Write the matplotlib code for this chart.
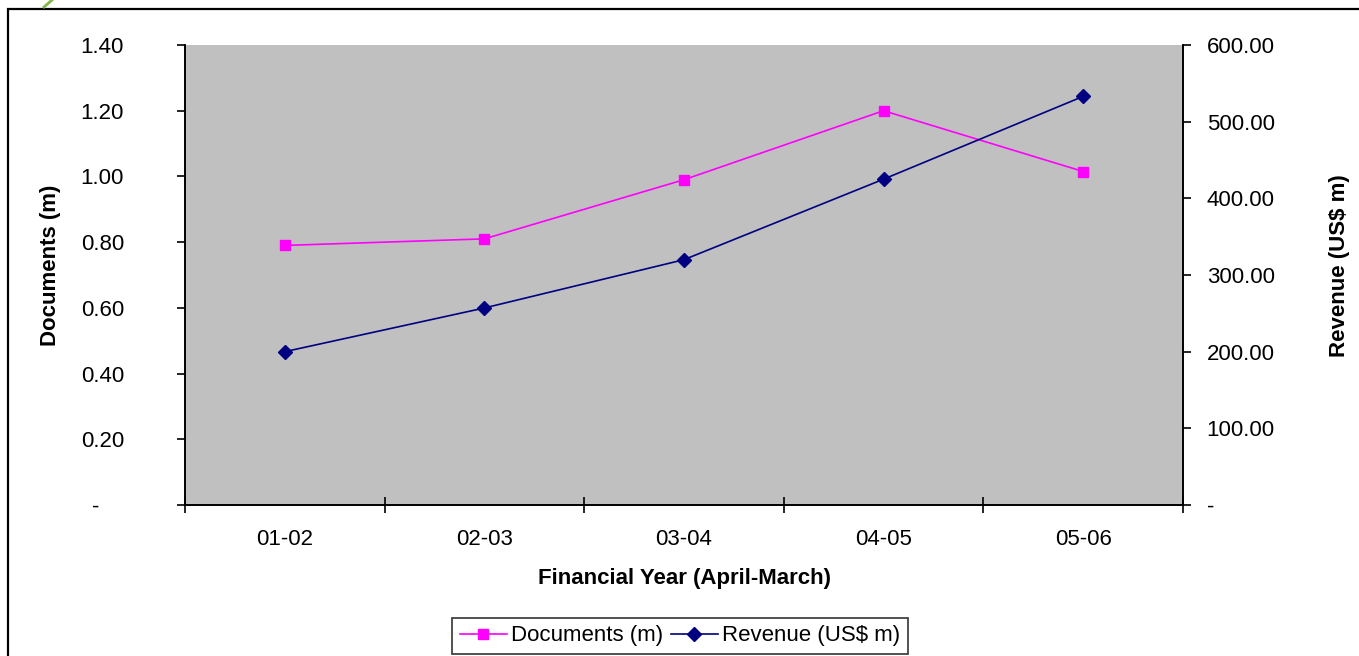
import matplotlib.pyplot as plt
from matplotlib.lines import Line2D
from matplotlib.patches import Rectangle
from matplotlib.ticker import FuncFormatter, FixedLocator

plt.rcParams['font.family'] = ['Liberation Sans', 'DejaVu Sans']

# Financial years and the two series
years = ["01-02", "02-03", "03-04", "04-05", "05-06"]
documents = [0.79, 0.81, 0.99, 1.20, 1.015]
revenue = [200.0, 257.0, 320.0, 425.0, 533.0]

doc_color = "#FF00FF"
rev_color = "#000080"
fs = 16

fig = plt.figure(figsize=(13.59, 6.56), dpi=100)

# outer chart border
fig.add_artist(Rectangle((8 / 1359, -0.02), 1.05, 1 - 9 / 656 + 0.02,
                         transform=fig.transFigure, fill=False,
                         edgecolor="black", linewidth=1.6))
# bit of clip art peeking in at the top
fig.add_artist(Line2D([44 / 1359, 52 / 1359], [1 - 7 / 656, 1.0],
                      transform=fig.transFigure, color="#7FB84A", linewidth=2))

ax = fig.add_axes([185 / 1359, 151 / 656, 998 / 1359, 460 / 656])
ax.set_facecolor("#C0C0C0")
x = list(range(len(years)))

ax.plot(x, documents, color=doc_color, linewidth=1.2, marker="s",
        markersize=7, label="Documents (m)")
ax.set_ylim(0, 1.4)
ax.set_xlim(-0.5, len(years) - 0.5)
ax.set_yticks([0, 0.2, 0.4, 0.6, 0.8, 1.0, 1.2, 1.4])
ax.yaxis.set_major_formatter(
    FuncFormatter(lambda v, p: "-    " if abs(v) < 1e-9 else f"{v:.2f}"))

ax2 = ax.twinx()
ax2.plot(x, revenue, color=rev_color, linewidth=1.2, marker="D",
         markersize=7, label="Revenue (US$ m)")
ax2.set_ylim(0, 600)
ax2.set_yticks([0, 100, 200, 300, 400, 500, 600])
ax2.yaxis.set_major_formatter(
    FuncFormatter(lambda v, p: "-" if abs(v) < 1e-9 else f"{v:.2f}"))

# category boundaries carry the tick marks, labels sit in between
ax.xaxis.set_major_locator(FixedLocator([i - 0.5 for i in range(len(years) + 1)]))
ax.xaxis.set_minor_locator(FixedLocator(x))
ax.set_xticklabels([""] * (len(years) + 1))
ax.set_xticklabels(years, minor=True)
ax.tick_params(axis="x", which="major", direction="inout", length=12, width=1.2)
ax.tick_params(axis="x", which="minor", length=0, pad=17, labelsize=fs)
ax.tick_params(axis="y", direction="out", length=6, width=1.2, pad=38,
               labelsize=fs)
ax2.tick_params(axis="y", direction="out", length=6, width=1.2, pad=11,
                labelsize=fs)

for a in (ax, ax2):
    a.spines["top"].set_visible(False)
    for s in ("left", "right", "bottom"):
        a.spines[s].set_linewidth(1.2)

ax.set_xlabel("Financial Year (April-March)", fontsize=fs, fontweight="bold",
              labelpad=13)
ax.set_ylabel("Documents (m)", fontsize=fs, fontweight="bold")
ax.yaxis.set_label_coords(-0.124, 0.52)
ax2.set_ylabel("Revenue (US$ m)", fontsize=fs, fontweight="bold")
ax2.yaxis.set_label_coords(1.146, 0.52)

h1, l1 = ax.get_legend_handles_labels()
h2, l2 = ax2.get_legend_handles_labels()
leg = fig.legend(h1 + h2, l1 + l2, loc="center", ncol=2,
                 bbox_to_anchor=(680 / 1359, 1 - 636 / 656), fontsize=fs,
                 frameon=True, fancybox=False, edgecolor="black",
                 handlelength=2.1, handletextpad=0.2, columnspacing=0.35,
                 borderpad=0.35, borderaxespad=0)
leg.get_frame().set_linewidth(1.2)

fig.savefig("out.png", dpi=100)
